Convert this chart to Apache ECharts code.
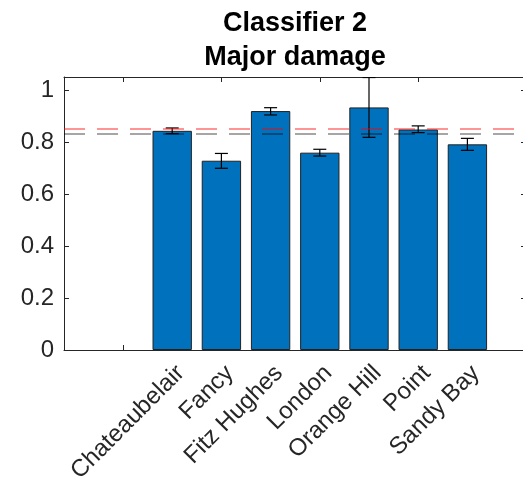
<!DOCTYPE html>
<html>
<head>
<meta charset="utf-8">
<script src="https://cdn.jsdelivr.net/npm/echarts@6/dist/echarts.min.js"></script>
<style>
  html, body { margin: 0; padding: 0; background: #fff; }
  #chart { width: 523px; height: 491px; }
</style>
</head>
<body>
<div id="chart"></div>
<script>
// Sites (first slot is left empty), mean score and error-bar limits
const categories = ['', 'Chateaubelair', 'Fancy', 'Fitz Hughes', 'London', 'Orange Hill', 'Point', 'Sandy Bay'];
const meanValues = [null, 0.843, 0.728, 0.919, 0.759, 0.933, 0.848, 0.791];
const errLow     = [null, 0.832, 0.699, 0.904, 0.746, 0.818, 0.836, 0.768];
const errHigh    = [null, 0.854, 0.756, 0.932, 0.772, 1.048, 0.862, 0.814];

// Reference levels drawn as dashed lines
const refRed = 0.852;
const refGray = 0.833;

// Y axis
const yMin = 0;
const yMax = 1.05;
const yStep = 0.2;

const titleLines = ['Classifier 2', 'Major damage'];

const FONT = '"Liberation Sans", Arial, Helvetica, sans-serif';
const AXIS_COLOR = '#262626';

const chart = echarts.init(document.getElementById('chart'), null, { renderer: 'canvas' });

const errData = categories.map((c, i) => [i, errLow[i], errHigh[i]]).filter(d => d[1] != null);

const frameLine = () => ({ show: true, onZero: false, lineStyle: { color: AXIS_COLOR, width: 1 } });
const noLine = () => ({ show: false, onZero: false });

const option = {
  animation: false,
  backgroundColor: '#fff',
  graphic: [
    { type: 'text', x: 295, y: 23.6, style: { text: titleLines[0], font: 'bold 27px ' + FONT, fill: '#000', align: 'center', verticalAlign: 'middle' } },
    { type: 'text', x: 295, y: 57.3, style: { text: titleLines[1], font: 'bold 27px ' + FONT, fill: '#000', align: 'center', verticalAlign: 'middle' } }
  ],
  grid: [
    // outer frame: y ticks on both sides, dashed reference lines
    { left: 64, top: 77, width: 462, height: 273, containLabel: false, outerBoundsMode: 'none' },
    // bar slots
    { left: 98.4, top: 77, width: 393.6, height: 273, containLabel: false, outerBoundsMode: 'none' }
  ],
  xAxis: [
    { gridIndex: 0, type: 'value', min: 0, max: 1, position: 'bottom',
      axisLine: frameLine(), axisTick: { show: false }, axisLabel: { show: false }, splitLine: { show: false } },
    { gridIndex: 0, type: 'value', min: 0, max: 1, position: 'top',
      axisLine: frameLine(), axisTick: { show: false }, axisLabel: { show: false }, splitLine: { show: false } },
    {
      gridIndex: 1, type: 'category', data: categories, position: 'bottom',
      axisLine: noLine(),
      axisTick: { show: true, inside: true, length: 5, alignWithLabel: true, lineStyle: { color: AXIS_COLOR } },
      axisLabel: { rotate: 45, fontFamily: FONT, fontSize: 24, color: AXIS_COLOR, margin: 11,
                   verticalAlign: 'top', interval: 0 }
    },
    {
      gridIndex: 1, type: 'category', data: categories, position: 'top',
      axisLine: noLine(),
      axisTick: { show: true, inside: true, length: 5, alignWithLabel: true, lineStyle: { color: AXIS_COLOR } },
      axisLabel: { show: false }
    }
  ],
  yAxis: [
    {
      gridIndex: 0, type: 'value', min: yMin, max: yMax, interval: yStep, position: 'left',
      axisLine: frameLine(),
      axisTick: { show: true, inside: true, length: 5, lineStyle: { color: AXIS_COLOR } },
      axisLabel: { fontFamily: FONT, fontSize: 24, color: AXIS_COLOR, margin: 10, showMaxLabel: false },
      splitLine: { show: false }
    },
    {
      gridIndex: 0, type: 'value', min: yMin, max: yMax, interval: yStep, position: 'right',
      axisLine: noLine(),
      axisTick: { show: true, inside: true, length: 5, lineStyle: { color: AXIS_COLOR } },
      axisLabel: { show: false },
      splitLine: { show: false }
    },
    { gridIndex: 1, type: 'value', min: yMin, max: yMax, show: false }
  ],
  series: [
    {
      type: 'bar', xAxisIndex: 2, yAxisIndex: 2,
      data: meanValues,
      barWidth: '80%',
      itemStyle: { color: '#0072BD', borderColor: '#222', borderWidth: 1 },
      z: 2
    },
    {
      type: 'custom', xAxisIndex: 2, yAxisIndex: 2,
      data: errData,
      clip: true,
      z: 3,
      renderItem: function (params, api) {
        const x = api.value(0);
        const lo = api.coord([x, api.value(1)]);
        const hi = api.coord([x, api.value(2)]);
        const half = 6.5;
        const style = { stroke: '#000', lineWidth: 1.2, fill: null };
        return {
          type: 'group',
          children: [
            { type: 'line', shape: { x1: lo[0], y1: lo[1], x2: hi[0], y2: hi[1] }, style: style },
            { type: 'line', shape: { x1: lo[0] - half, y1: lo[1], x2: lo[0] + half, y2: lo[1] }, style: style },
            { type: 'line', shape: { x1: hi[0] - half, y1: hi[1], x2: hi[0] + half, y2: hi[1] }, style: style }
          ]
        };
      }
    },
    {
      type: 'line', xAxisIndex: 0, yAxisIndex: 0, data: [],
      z: 5,
      markLine: {
        silent: true,
        symbol: ['none', 'none'],
        label: { show: false },
        animation: false,
        data: [
          { yAxis: refRed, lineStyle: { color: 'rgba(255,0,0,0.42)', type: [21, 12], width: 2 } },
          { yAxis: refGray, lineStyle: { color: 'rgba(0,0,0,0.35)', type: [21, 12], width: 2 } }
        ]
      }
    }
  ]
};

chart.setOption(option);
</script>
</body>
</html>
